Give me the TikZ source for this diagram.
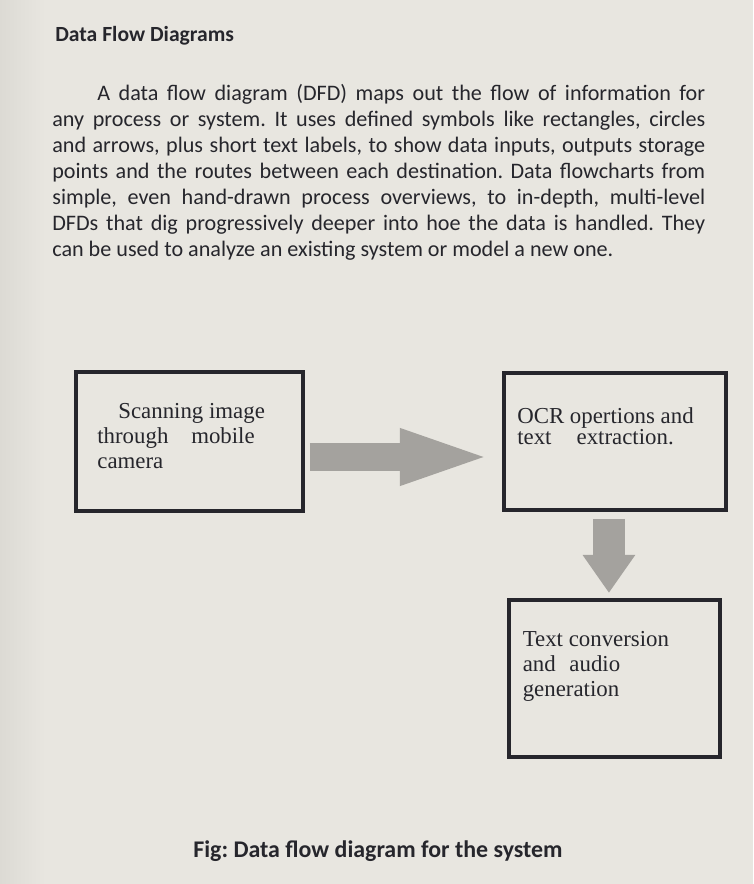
\documentclass[tikz,border=0pt]{standalone}
\usepackage{fontspec}
\setmainfont{Carlito}
\newfontfamily\boxfont{Liberation Serif}
\usepackage{tikz}
\usetikzlibrary{positioning,arrows.meta}

\definecolor{pagebg}{RGB}{232,230,224}
\definecolor{pageshade}{RGB}{220,218,212}
\definecolor{ink}{RGB}{38,38,44}
\definecolor{arrowgray}{RGB}{164,162,158}

\frenchspacing
\begin{document}
\begin{tikzpicture}[x=0.02cm,y=-0.02cm,node distance=1.72cm,text=ink]
  \tikzstyle{process}=[draw=ink,line width=0.08cm]
  \tikzstyle{boxtext}=[anchor=north west,inner sep=0pt,align=left]
  \tikzstyle{heading}=[inner sep=0pt,font=\fontsize{12.3}{14}\selectfont\bfseries]
  \tikzstyle{para}=[inner sep=0pt,text width=13.06cm,align=justify,
                    font=\fontsize{12.6}{14.8}\selectfont]
  \tikzstyle{figcaption}=[inner sep=0pt,font=\fontsize{13.6}{16}\selectfont\bfseries]
  \tikzstyle{flow}=[draw=arrowgray,line width=0.58cm,
                    -{Triangle[length=1.9cm,width=0.98cm]},
                    shorten <=0.1cm,shorten >=0.14cm]

  % page
  \fill[pagebg] (0,0) rectangle (753,884);
  \shade[left color=pageshade,right color=pagebg] (0,0) rectangle (45,884);
  \useasboundingbox (0,0) rectangle (753,884);

  % text above the figure
  \node[heading,anchor=base west] (title) at (55,42) {Data Flow Diagrams};
  \node[para,anchor=north west] (intro) at (52,84) {\hspace*{0.9cm}A data flow
    diagram (DFD) maps out the flow of information for\linebreak any process or
    system. It uses defined symbols like rectangles, circles\linebreak and arrows,
    plus short text labels, to show data inputs, outputs storage\linebreak points
    and the routes between each destination. Data flowcharts from\linebreak simple,
    even hand-drawn process overviews, to in-depth, multi-level\linebreak DFDs that
    dig progressively deeper into hoe the data is handled. They\linebreak can be
    used to analyze an existing system or model a new one.};

  % boxes
  \node[process,minimum width=4.54cm,minimum height=2.78cm] (scan) at (189.5,441.5) {};
  \node[process,minimum width=4.44cm,minimum height=2.74cm,right=3.94cm of scan] (ocr) {};
  \node[process,minimum width=4.22cm,minimum height=3.14cm,below=of ocr] (tts) {};

  \node[boxtext,font=\boxfont\fontsize{13}{14.2}\selectfont] (scantext)
    at ([xshift=0.46cm,yshift=-0.66cm]scan.north west)
    {\hspace*{0.42cm}Scanning image\\through\hspace{1em}mobile\\camera};
  \node[boxtext,font=\boxfont\fontsize{13}{12}\selectfont] (ocrtext)
    at ([xshift=0.3cm,yshift=-0.72cm]ocr.north west)
    {OCR opertions and\\text\hspace{1.1em}extraction.};
  \node[boxtext,font=\boxfont\fontsize{13}{14.2}\selectfont] (ttstext)
    at ([xshift=0.3cm,yshift=-0.66cm]tts.north west)
    {Text conversion\\and\hspace{0.6em}audio\\generation};

  % block arrows
  \coordinate (flowstart) at ([yshift=-0.31cm]scan.east);
  \coordinate (dropstart) at ([xshift=-0.12cm]ocr.south);
  \draw[flow] (flowstart) -- (flowstart -| ocr.west);
  \draw[flow,line width=0.64cm,-{Triangle[length=0.76cm,width=1.0cm]},
        shorten <=0.14cm,shorten >=0.1cm] (dropstart) -- (dropstart |- tts.north);

  \node[figcaption,anchor=base west] (figlabel) at (193,857)
    {Fig: Data flow diagram for the system};
\end{tikzpicture}
\end{document}
